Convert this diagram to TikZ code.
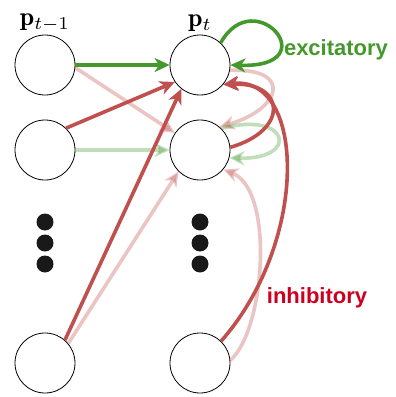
\documentclass[tikz,border=0pt]{standalone}
\usepackage{fontspec}
\usepackage{amsmath}
\usetikzlibrary{arrows.meta}
\newfontfamily\tagfont{Liberation Sans}
\definecolor{exgreen}{RGB}{68,152,44}
\definecolor{inred}{RGB}{192,80,77}
\definecolor{tagred}{RGB}{204,0,30}
\tikzset{
	neuron/.style={circle,draw,line width=0.8pt,minimum size=60pt,inner sep=0pt},
	dot/.style={circle,fill=black!90,minimum size=17pt,inner sep=0pt},
	syn/.style={line width=3.6pt,-{Stealth[length=15pt,width=14pt,inset=4.5pt]}},
	exc/.style={syn,exgreen},
	inh/.style={syn,inred},
	weak/.style={opacity=0.33},
	layer/.style={label={[scale=2.6,inner sep=0pt,label distance=1pt]90:{#1}}},
	tag/.style={font=\tagfont\bfseries\fontsize{22}{26}\selectfont}
}
\begin{document}
\begin{tikzpicture}[x=1pt,y=-1pt]
					\useasboundingbox (0,0) rectangle (396,397);
					\node(l1)[neuron,layer={$\mathbf{p}_{t-1}$}] at (45,65) {};
					\node(l2)[neuron] at (45,150) {};
					\node(l3)[neuron] at (45,363) {};
					\node(r1)[neuron,layer={$\mathbf{p}_{t}$}] at (200,65) {};
					\node(r2)[neuron] at (200,150) {};
					\node(r3)[neuron] at (200,363) {};
					\foreach \y [count=\i] in {222,243,264} {
						\node(ld\i)[dot] at (45,\y) {};
						\node(rd\i)[dot] at (200,\y) {};
					}
					\node(ex)[tag,text=exgreen] at (336,50) {excitatory};
					\node(in)[tag,text=tagred] at (317,298) {inhibitory};
						\draw[inh,weak] (l1.-5) -- (r2.146);
						\draw[inh,weak] (l3.40) -- (r2.225);
						\draw[exc,weak] (l2.east) -- (r2.west);
						\draw[inh,weak] (r1.-10) .. controls (295,68) and (280,110) .. (r2.50);
						\draw[exc,weak] (r2.45) .. controls (290,110) and (300,160) .. (r2.-15);
						\draw[inh,weak] (r3.5) .. controls (265,330) and (275,190) .. (r2.-40);
						\draw[exc] (l1.east) -- (r1.west);
						\draw[exc] (r1.47) .. controls (255,-18) and (328,68) .. (r1.0);
						\draw[inh] (l2.46) -- (r1.214);
						\draw[inh] (l3.49) -- (r1.232);
						\draw[inh] (r2.5) .. controls (290,130) and (285,82) .. (r1.-40);
						\draw[inh] (r3.46) .. controls (310,240) and (305,75) .. (r1.-40);
				\end{tikzpicture}
\end{document}
